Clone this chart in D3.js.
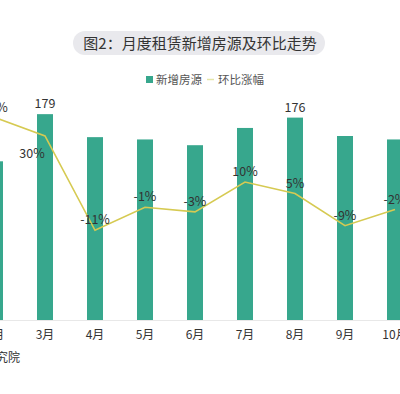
<!DOCTYPE html>
<html>
<head>
<meta charset="utf-8">
<script src="https://cdn.jsdelivr.net/npm/d3@7/dist/d3.min.js"></script>
<style>
html,body{margin:0;padding:0;background:#fff;overflow:hidden;}
svg{display:block;font-family:"Noto Sans CJK SC","Noto Sans",sans-serif;}
</style>
</head>
<body>
<svg id="c" width="400" height="394"></svg>
<script>
const months = ["2月","3月","4月","5月","6月","7月","8月","9月","10月"];
const newListings = [138, 179, 159, 157, 152, 167, 176, 160, 157];
const momChange = [38, 30, -11, -1, -3, 10, 5, -9, -2];
const labeledBars = ["3月","8月"];
const titleText = "图2：月度租赁新增房源及环比走势";
const legendBar = "新增房源";
const legendLine = "环比涨幅";
const sourceText = "数据来源：贝壳研究院";

const barColor = "#37a78d";
const lineColor = "#d6ca52";
const textColor = "#333";

const svg = d3.select("#c");

// title pill
svg.append("rect").attr("x",73).attr("y",31).attr("width",252).attr("height",24)
  .attr("rx",12).attr("fill","#e9e9ed");
svg.append("text").attr("x",200).attr("y",48.5).attr("text-anchor","middle")
  .attr("font-size",15).attr("fill",textColor).text(titleText);

// legend
const lg = svg.append("g");
lg.append("rect").attr("x",146).attr("y",76).attr("width",7).attr("height",7).attr("fill",barColor);
lg.append("text").attr("x",156).attr("y",83.5).attr("font-size",11.5).attr("fill","#555").text(legendBar);
lg.append("line").attr("x1",207).attr("x2",214).attr("y1",79.5).attr("y2",79.5)
  .attr("stroke","#e4e6a8").attr("stroke-width",1.5);
lg.append("text").attr("x",218).attr("y",83.5).attr("font-size",11.5).attr("fill","#555").text(legendLine);

const x = d3.scaleBand().domain(months).range([-30, 420]).paddingInner(0.68).paddingOuter(0.34);
const y = d3.scaleLinear().domain([0, 200]).range([320, 90]);
const y2 = d3.scaleLinear().domain([-20, 40]).range([251, 113]);

// bars
svg.append("g").selectAll("rect").data(months).join("rect")
  .attr("x", d => x(d)).attr("width", x.bandwidth())
  .attr("y", (d,i) => y(newListings[i]))
  .attr("height", (d,i) => y(0) - y(newListings[i]))
  .attr("fill", barColor);

// bar labels
svg.append("g").selectAll("text").data(months.filter(m => labeledBars.includes(m))).join("text")
  .attr("x", d => x(d) + x.bandwidth()/2)
  .attr("y", d => y(newListings[months.indexOf(d)]) - 6)
  .attr("text-anchor","middle").attr("font-size",12.5).attr("fill",textColor)
  .text(d => newListings[months.indexOf(d)]);

// axis
const ax = svg.append("g").attr("transform","translate(0,320)")
  .call(d3.axisBottom(x).tickSize(0).tickPadding(10));
ax.select(".domain").attr("stroke","#e8e8e8");
ax.selectAll("text").attr("font-size",12).attr("fill",textColor)
  .attr("font-family","\"Noto Sans CJK SC\",sans-serif");

// line
const cx = d => x(d) + x.bandwidth()/2;
const line = d3.line().x((d,i) => cx(months[i])).y(d => y2(d));
svg.append("path").datum(momChange).attr("d", line)
  .attr("fill","none").attr("stroke",lineColor).attr("stroke-width",1.6);

// line labels
svg.append("g").selectAll("text").data(months).join("text")
  .attr("x", (d,i) => d === "3月" ? cx(d) - 13 : cx(d))
  .attr("y", (d,i) => d === "3月" ? y2(momChange[i]) + 22 : y2(momChange[i]) - 6)
  .attr("text-anchor","middle").attr("font-size",12.5).attr("fill",textColor)
  .text((d,i) => momChange[i] + "%");

// source
svg.append("text").attr("x",20).attr("y",361.5).attr("text-anchor","end")
  .attr("font-size",12).attr("fill",textColor).text(sourceText);
</script>
</body>
</html>
